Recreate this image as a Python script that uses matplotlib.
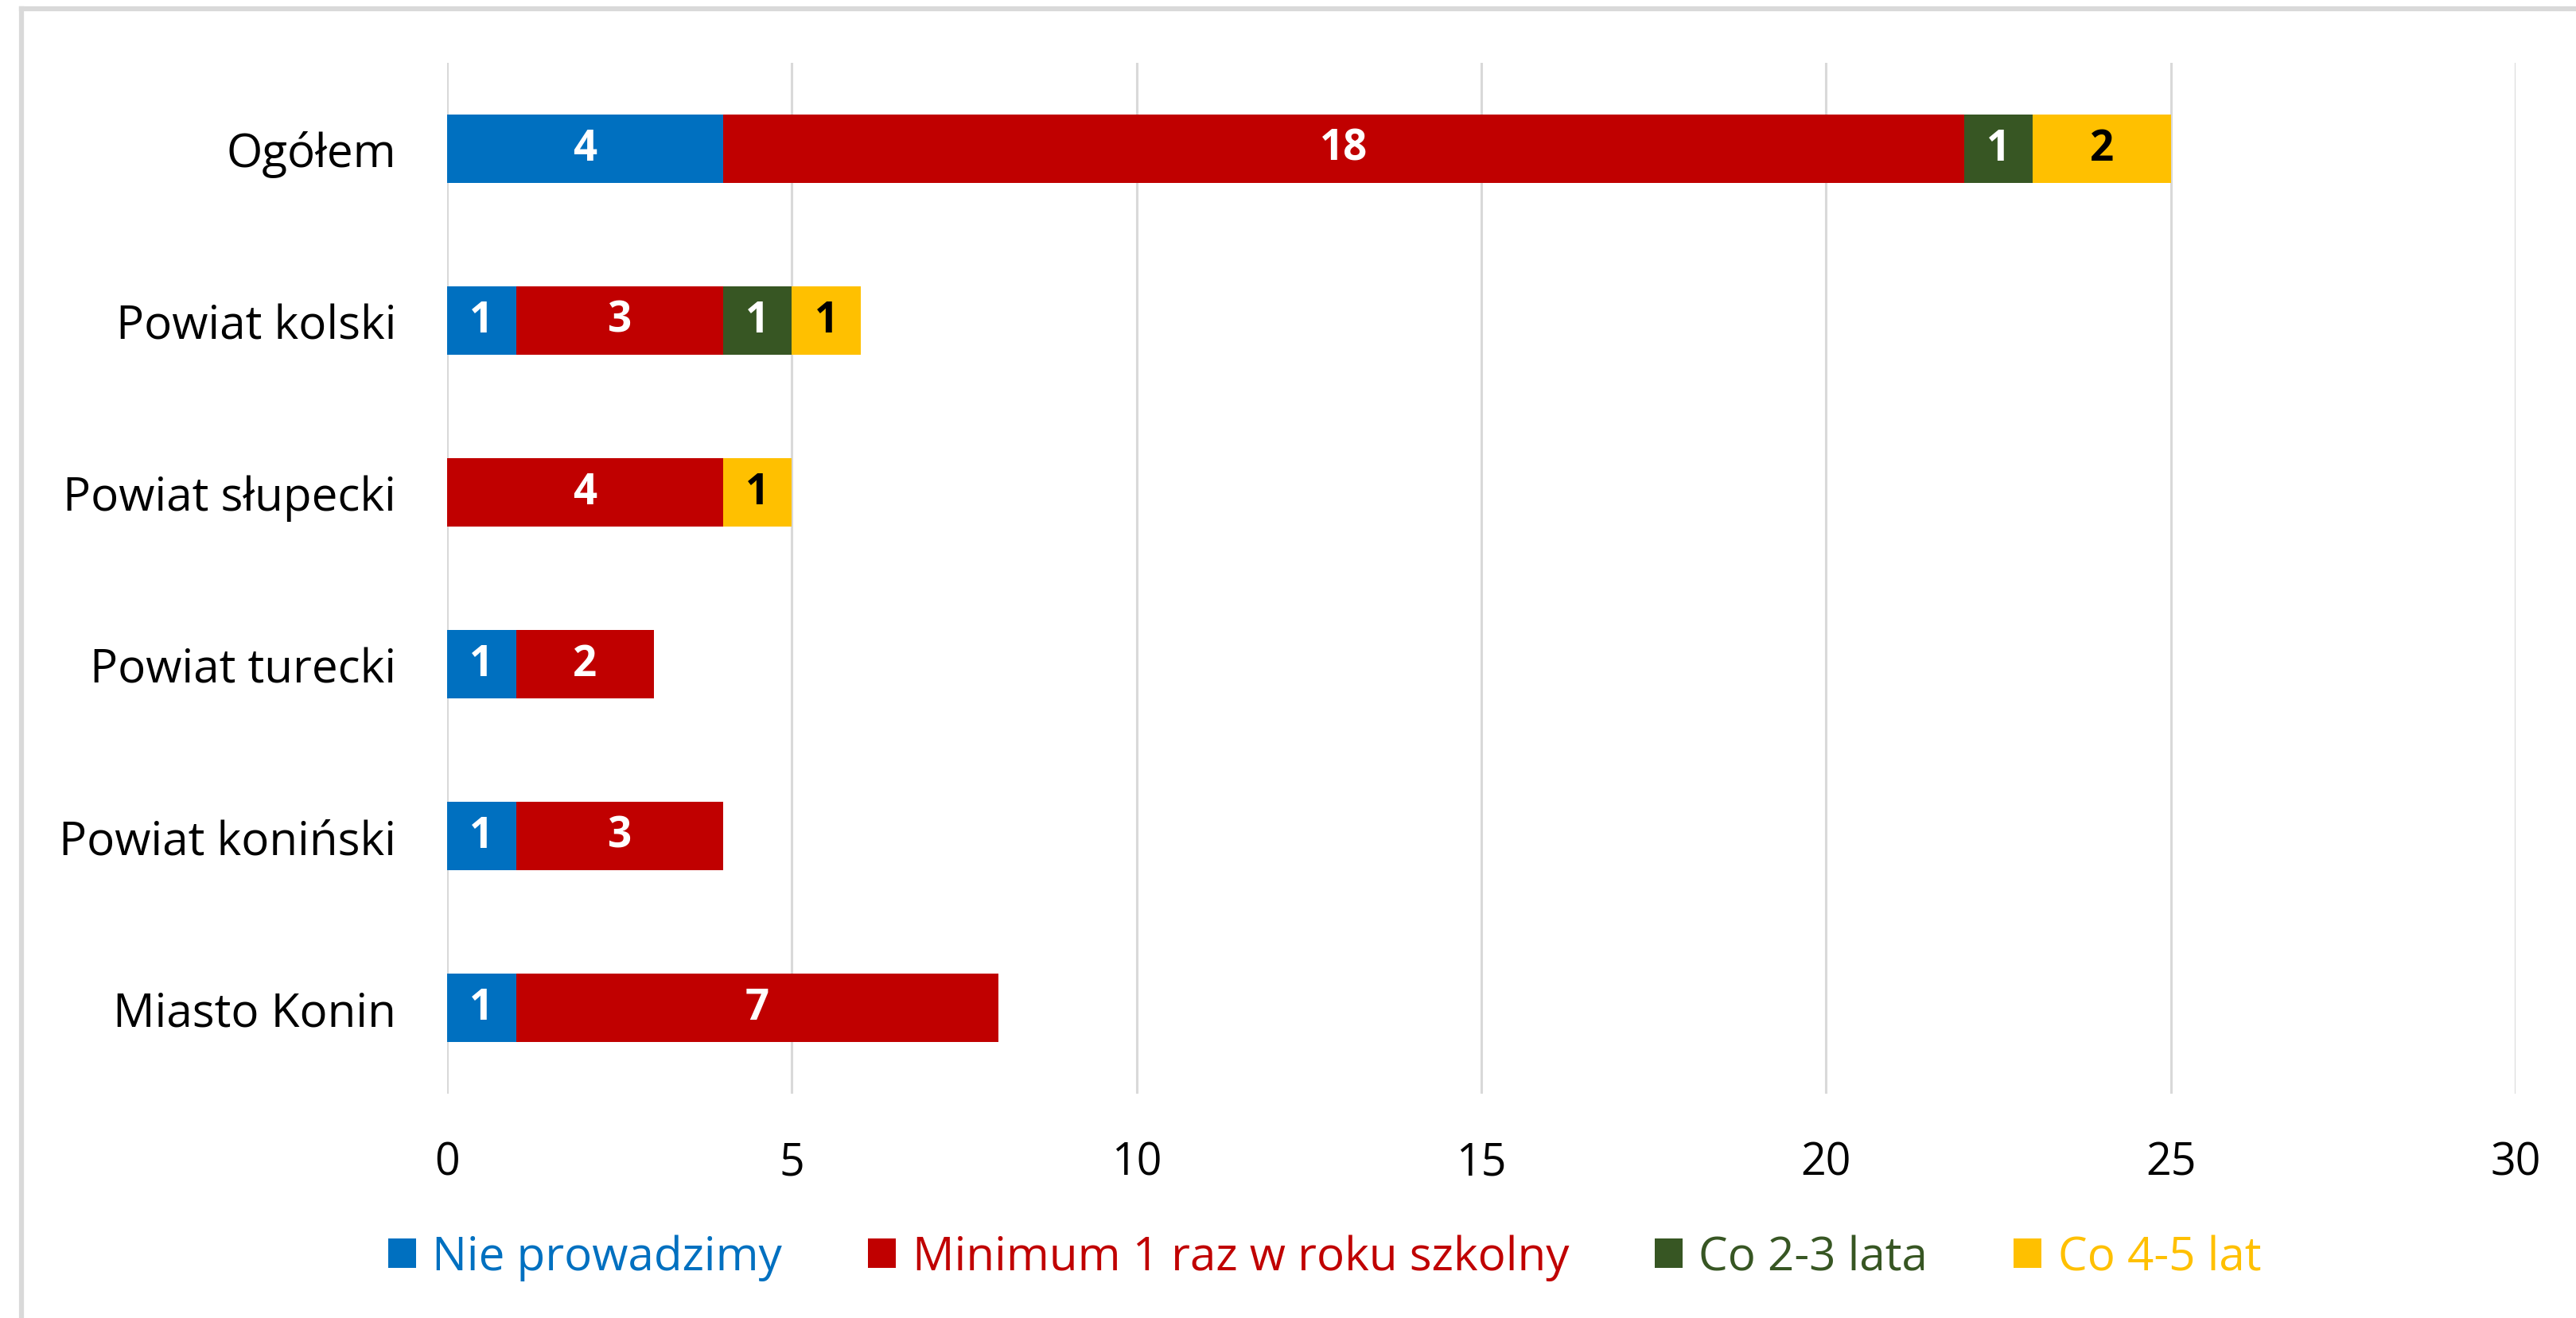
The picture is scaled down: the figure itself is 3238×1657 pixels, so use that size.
import numpy as np
import matplotlib
matplotlib.use('Agg')
import matplotlib.pyplot as plt
from matplotlib.lines import Line2D

plt.rcParams['font.family'] = ['Open Sans', 'DejaVu Sans']

# dane
kategorie = ['Ogółem', 'Powiat kolski', 'Powiat słupecki', 'Powiat turecki',
             'Powiat koniński', 'Miasto Konin']
nie_prowadzimy = [4, 1, 0, 1, 1, 1]
minimum_1_raz = [18, 3, 4, 2, 3, 7]
co_2_3_lata = [1, 1, 0, 0, 0, 0]
co_4_5_lat = [2, 1, 1, 0, 0, 0]
serie = ['Nie prowadzimy', 'Minimum 1 raz w roku szkolny', 'Co 2-3 lata', 'Co 4-5 lat']
kolory = ['#0070C0', '#C00000', '#375623', '#FFC000']
kolory_etykiet = ['white', 'white', 'white', 'black']

fig = plt.figure(figsize=(32.38, 16.58), dpi=100)
ax = fig.add_axes([562 / 3238, 1 - 1376 / 1658, 2600 / 3238, 1296 / 1658])

y = np.arange(len(kategorie))
lewo = np.zeros(len(kategorie))
for wartosci, nazwa, kolor, kol_et in zip(
        [nie_prowadzimy, minimum_1_raz, co_2_3_lata, co_4_5_lat], serie, kolory, kolory_etykiet):
    wartosci = np.array(wartosci)
    bars = ax.barh(y, wartosci, left=lewo, height=0.4, color=kolor, label=nazwa, zorder=3)
    etykiety = [str(v) if v > 0 else '' for v in wartosci]
    ax.bar_label(bars, labels=etykiety, label_type='center', color=kol_et,
                 fontsize=38, fontweight='bold')
    lewo = lewo + wartosci

ax.set_ylim(len(kategorie) - 0.5, -0.5)
ax.set_xlim(0, 30)
ax.set_xticks(range(0, 31, 5))
ax.set_yticks(y)
ax.set_yticklabels(kategorie)
ax.tick_params(axis='y', length=0, pad=46, labelsize=42)
ax.tick_params(axis='x', length=0, pad=42, labelsize=40)
ax.grid(axis='x', color='#d9d9d9', linewidth=2.2, zorder=0)
for s in ax.spines.values():
    s.set_visible(False)

leg = fig.legend(loc='center', bbox_to_anchor=(1665 / 3238, 1 - 1582 / 1658), ncol=4,
                 frameon=False, fontsize=42, handlelength=0.6, handleheight=0.6,
                 handletextpad=0.35, columnspacing=1.85)
for t, kolor in zip(leg.get_texts(), kolory):
    t.set_color(kolor)

# ramka (widoczna tylko u góry i po lewej)
fig.add_artist(Line2D([27 / 3238, 1], [1 - 12 / 1658, 1 - 12 / 1658],
                      transform=fig.transFigure, color='#d9d9d9', linewidth=4.5))
fig.add_artist(Line2D([27 / 3238, 27 / 3238], [0, 1 - 12 / 1658],
                      transform=fig.transFigure, color='#d9d9d9', linewidth=4.5))

fig.savefig('out.png', dpi=100)
